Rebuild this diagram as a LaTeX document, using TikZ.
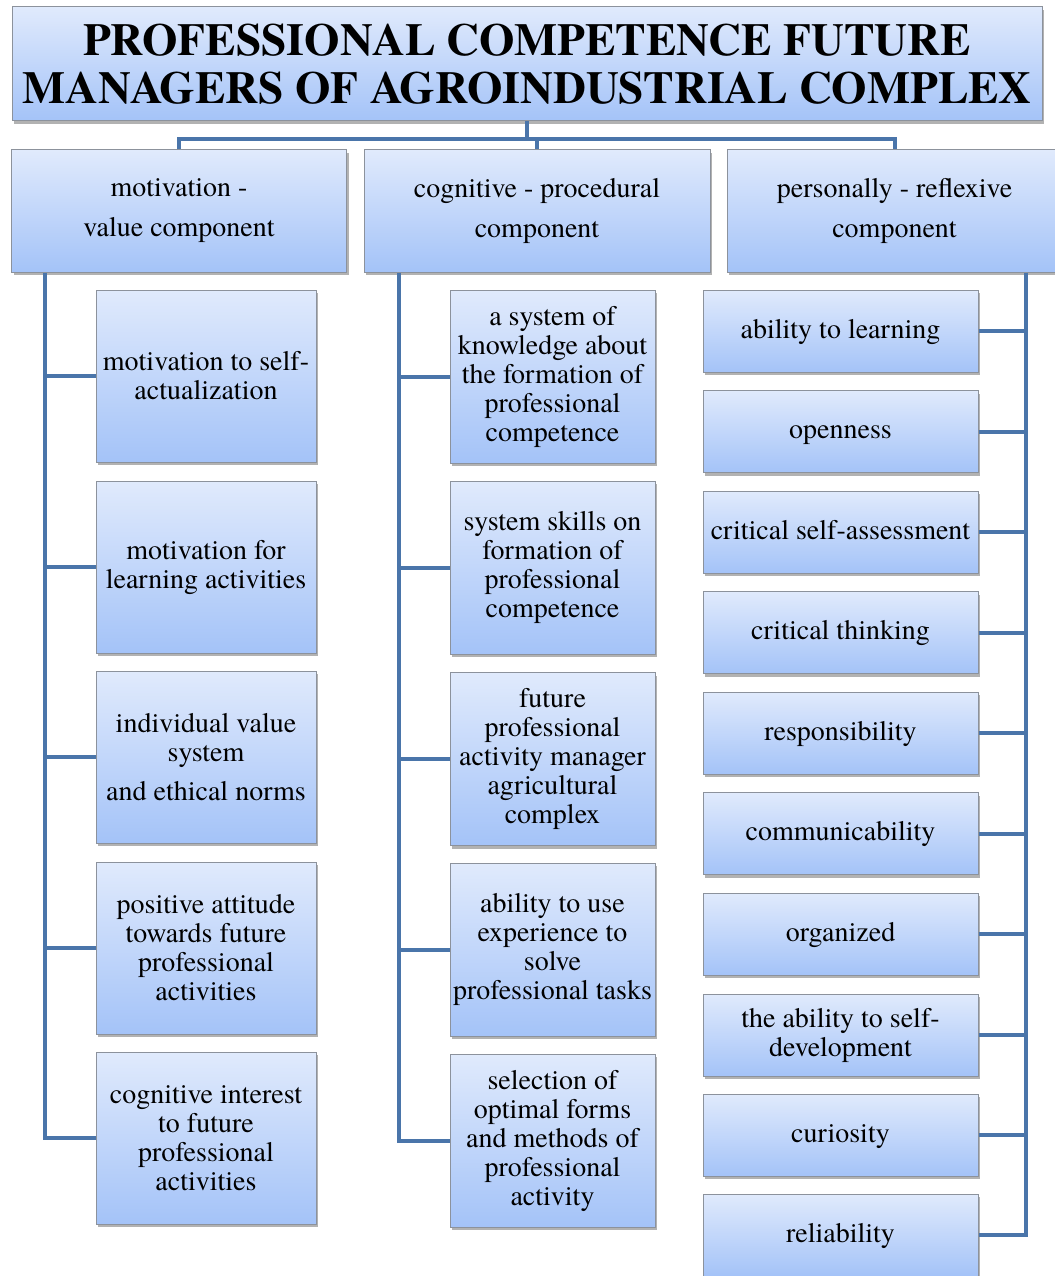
\documentclass[tikz,border=0pt]{standalone}
\usepackage{fontspec}
\setmainfont{TeX Gyre Termes}
\usetikzlibrary{shadows}
\definecolor{boxtop}{RGB}{224,234,252}
\definecolor{boxbot}{RGB}{164,195,248}
\definecolor{boxline}{RGB}{140,146,156}
\definecolor{linkblue}{RGB}{74,117,170}
\newcommand\leaffont{\fontsize{28}{29}\selectfont}
\newcommand\headfont{\fontsize{28}{40}\selectfont}
\newcommand\titlefont{\fontsize{45.6}{48}\selectfont\bfseries}
\begin{document}
\begin{tikzpicture}[x=1pt,y=-1pt,
  box/.style={draw=boxline,line width=1pt,top color=boxtop,bottom color=boxbot,
    drop shadow={shadow xshift=2pt,shadow yshift=-3pt,opacity=0.3,fill=black},
    inner sep=0pt,align=center,font=\leaffont},
  mbox/.style={box,minimum width=220,minimum height=172},
  cbox/.style={box,minimum width=205,minimum height=173},
  rbox/.style={box,minimum width=275,minimum height=82,text height=20pt,text depth=6pt},
  link/.style={draw=linkblue,line width=4pt}]
\useasboundingbox (0,0) rectangle (1054,1276);
\coordinate (bar) at (0,139);
\coordinate (busL) at (45,0);
\coordinate (busM) at (399,0);
\coordinate (busR) at (1026,0);
% title and the three components
\node[box,font=\titlefont,minimum width=1030,minimum height=114] (title) at (527,64)
  {PROFESSIONAL COMPETENCE FUTURE\\MANAGERS OF AGROINDUSTRIAL COMPLEX};
\node[box,font=\headfont,minimum width=335,minimum height=122] (hm) at (179,211)
  {motivation -\\value component};
\node[box,font=\headfont,minimum width=346,minimum height=122] (hc) at (537,211)
  {cognitive - procedural\\component};
\node[box,font=\headfont,minimum width=335,minimum height=122] (hr) at (894.5,211)
  {personally - reflexive\\component};
% motivation - value
\node[mbox] (m1) at (206,376) {motivation to self-\\actualization};
\node[mbox] (m2) at (206,567) {motivation for\\learning activities};
\node[mbox] (m3) at (206,757) {individual value\\system\\[10pt]and ethical norms};
\node[mbox] (m4) at (206,948) {positive attitude\\towards future\\professional\\activities};
\node[mbox] (m5) at (206,1138) {cognitive interest\\to future\\professional\\activities};
% cognitive - procedural
\node[cbox] (c1) at (552.5,376.5) {a system of\\knowledge about\\the formation of\\professional\\competence};
\node[cbox] (c2) at (552.5,567.5) {system skills on\\formation of\\professional\\competence};
\node[cbox] (c3) at (552.5,759) {future\\professional\\activity manager\\agricultural\\complex};
\node[cbox] (c4) at (552.5,949.5) {ability to use\\experience to\\solve\\professional tasks};
\node[cbox] (c5) at (552.5,1140.5) {selection of\\optimal forms\\and methods of\\professional\\activity};
% personally - reflexive
\node[rbox] (r1) at (840.5,331) {ability to learning};
\node[rbox] (r2) at (840.5,431.5) {openness};
\node[rbox] (r3) at (840.5,532) {critical self-assessment};
\node[rbox] (r4) at (840.5,632.5) {critical thinking};
\node[rbox] (r5) at (840.5,733) {responsibility};
\node[rbox] (r6) at (840.5,833.5) {communicability};
\node[rbox] (r7) at (840.5,934) {organized};
\node[rbox,text height=49pt] (r8) at (840.5,1035) {the ability to self-\\development};
\node[rbox] (r9) at (840.5,1135) {curiosity};
\node[rbox] (r10) at (840.5,1235) {reliability};
% connectors
\draw[link] (title.south) -- (title.south |- bar);
\draw[link] (hm.north) -- (hm.north |- bar) -- (hr.north |- bar) -- (hr.north);
\draw[link] (hc.north) -- (hc.north |- bar);
\draw[link] (hm.south -| busL) -- (busL |- m5.west) -- (m5.west);
\draw[link] (hc.south -| busM) -- (busM |- c5.west) -- (c5.west);
\draw[link] (hr.south -| busR) -- (busR |- r10.east) -- (r10.east);
\foreach \i in {1,...,4} {
  \draw[link] (busL |- m\i.west) -- (m\i.west);
  \draw[link] (busM |- c\i.west) -- (c\i.west);
}
\foreach \i in {1,...,9}
  \draw[link] (r\i.east) -- (busR |- r\i.east);
\end{tikzpicture}
\end{document}
